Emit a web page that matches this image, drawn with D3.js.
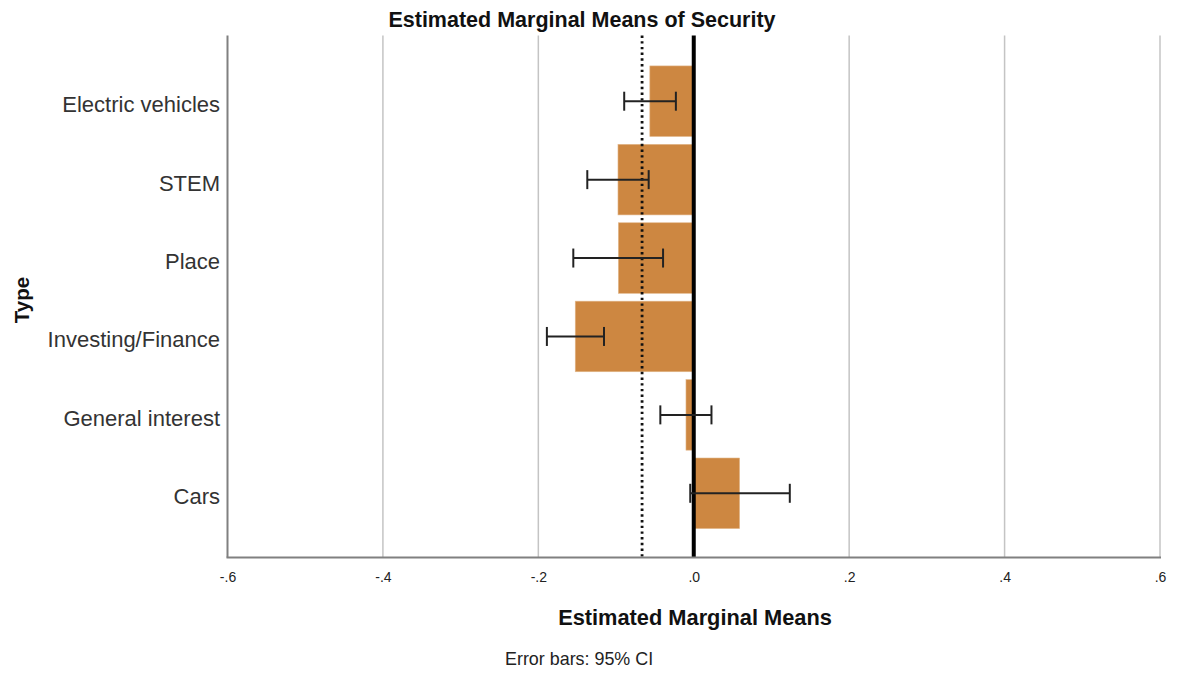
<!DOCTYPE html>
<html><head><meta charset="utf-8">
<script src="https://cdn.jsdelivr.net/npm/d3@7"></script>
<style>body{margin:0;background:#fff}svg{display:block}</style>
</head><body>
<script>
const categories = ["Electric vehicles","STEM","Place","Investing/Finance","General interest","Cars"];
const means = [-0.0565, -0.0975, -0.0970, -0.1525, -0.0100, 0.0590];
const ciLower = [-0.0895, -0.1370, -0.1550, -0.1890, -0.0430, -0.0045];
const ciUpper = [-0.0230, -0.0580, -0.0395, -0.1155, 0.0228, 0.1236];
const grandMean = -0.0665;
const xTicks = [-0.6, -0.4, -0.2, 0, 0.2, 0.4, 0.6];
const xTickLabels = ["-.6","-.4","-.2",".0",".2",".4",".6"];

const W = 1177, H = 677;
const svg = d3.select("body").append("svg").attr("width", W).attr("height", H);
const font = "'Liberation Sans', Arial, sans-serif";

const plotTop = 35.5, plotBottom = 557.5, plotLeft = 227.5, plotRight = 1160;
const x = d3.scaleLinear().domain([-0.6, 0.6]).range([plotLeft, plotRight]);
const y = d3.scaleBand().domain(categories).range([62, 532.5]).paddingInner(0.1).paddingOuter(0.05);

// gridlines
svg.append("g").selectAll("line").data(xTicks.filter(t => t !== -0.6 && t !== 0)).join("line")
  .attr("x1", d => x(d)).attr("x2", d => x(d)).attr("y1", plotTop).attr("y2", plotBottom)
  .attr("stroke", "#c4c4c4").attr("stroke-width", 1.5);

// bars
svg.append("g").selectAll("rect").data(categories).join("rect")
  .attr("x", (d,i) => x(Math.min(0, means[i])))
  .attr("width", (d,i) => Math.abs(x(means[i]) - x(0)))
  .attr("y", d => y(d)).attr("height", y.bandwidth())
  .attr("fill", "#cd8741").attr("stroke", "#e2b88c").attr("stroke-width", 0.6);

// dotted reference line
svg.append("line").attr("x1", x(grandMean)).attr("x2", x(grandMean))
  .attr("y1", plotTop).attr("y2", plotBottom)
  .attr("stroke", "#111").attr("stroke-width", 2.8).attr("stroke-dasharray", "2.4,3.3");

// zero line
svg.append("line").attr("x1", x(0)).attr("x2", x(0)).attr("y1", plotTop).attr("y2", plotBottom)
  .attr("stroke", "#000").attr("stroke-width", 4);

// error bars
const eb = svg.append("g").attr("stroke", "#222").attr("stroke-width", 2);
categories.forEach((c, i) => {
  const cy = y(c) + y.bandwidth() / 2;
  eb.append("line").attr("x1", x(ciLower[i])).attr("x2", x(ciUpper[i])).attr("y1", cy).attr("y2", cy);
  [ciLower[i], ciUpper[i]].forEach(v => {
    eb.append("line").attr("x1", x(v)).attr("x2", x(v)).attr("y1", cy - 9.5).attr("y2", cy + 9.5);
  });
});

// axes lines
svg.append("line").attr("x1", plotLeft).attr("x2", plotLeft).attr("y1", plotTop).attr("y2", plotBottom)
  .attr("stroke", "#808080").attr("stroke-width", 2);
svg.append("line").attr("x1", plotLeft - 1).attr("x2", plotRight + 1).attr("y1", plotBottom).attr("y2", plotBottom)
  .attr("stroke", "#808080").attr("stroke-width", 2);

// x axis tick labels
const xAxis = d3.axisBottom(x).tickValues(xTicks).tickFormat((d,i) => xTickLabels[i]).tickSize(0).tickPadding(0);
const gx = svg.append("g").attr("transform", `translate(0,${plotBottom})`).call(xAxis);
gx.select(".domain").remove();
gx.selectAll("text").attr("y", 0).attr("dy", 24.5).attr("font-family", font).attr("font-size", 14)
  .attr("fill", "#222");

// y axis labels
const yAxis = d3.axisLeft(y).tickSize(0).tickPadding(0);
const gy = svg.append("g").attr("transform", `translate(220,0)`).call(yAxis);
gy.select(".domain").remove();
gy.selectAll("text").attr("x", 0).attr("dy", "0.5em").attr("font-family", font).attr("font-size", 22).attr("fill", "#333");

// titles
svg.append("text").attr("x", 582).attr("y", 26.5).attr("text-anchor", "middle")
  .attr("font-family", font).attr("font-weight", "bold").attr("font-size", 21.5).attr("fill", "#111")
  .text("Estimated Marginal Means of Security");
svg.append("text").attr("x", 695).attr("y", 625).attr("text-anchor", "middle")
  .attr("font-family", font).attr("font-weight", "bold").attr("font-size", 21.8).attr("fill", "#111")
  .text("Estimated Marginal Means");
svg.append("text").attr("transform", "translate(29,300) rotate(-90)").attr("text-anchor", "middle")
  .attr("font-family", font).attr("font-weight", "bold").attr("font-size", 20.5).attr("fill", "#111")
  .text("Type");
svg.append("text").attr("x", 505).attr("y", 665)
  .attr("font-family", font).attr("font-size", 17.9).attr("fill", "#222")
  .text("Error bars: 95% CI");
</script>
</body></html>
